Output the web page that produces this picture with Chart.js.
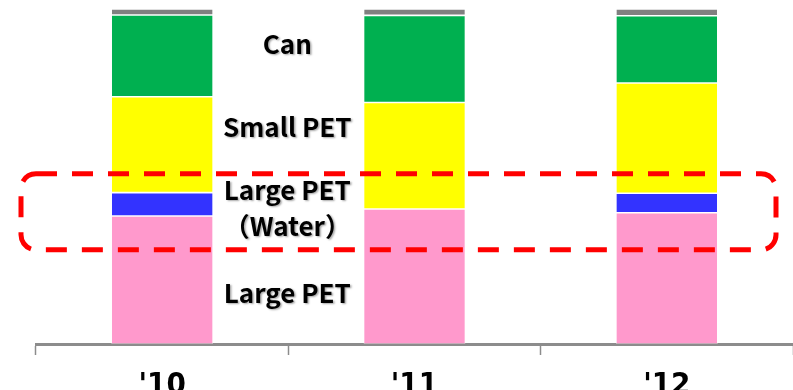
<!DOCTYPE html>
<html>
<head>
<meta charset="utf-8">
<script src="https://cdn.jsdelivr.net/npm/chart.js@4/dist/chart.umd.min.js"></script>
<style>
  html, body { margin: 0; padding: 0; background: #ffffff; }
  #wrap { width: 793px; height: 390px; overflow: hidden; }
</style>
</head>
<body>
<div id="wrap"><canvas id="c" width="793" height="390"></canvas></div>
<script>
// Container mix by year, share of total (%)
const years = ["'10", "'11", "'12"];
const largePet      = [38.2, 40.3, 39.2];
const largePetWater = [7.0, 0, 5.8];
const smallPet      = [28.6, 31.8, 32.9];
const can           = [24.4, 26.0, 20.1];
const other         = [1.8, 1.9, 2.0];

// Series labels written between the first two columns, bottom to top
const seriesNotes = [
  { text: 'Large PET', at: 15.2 },
  { text: '（Water）', at: 35.3 },
  { text: 'Large PET', at: 46.0 },
  { text: 'Small PET', at: 64.8 },
  { text: 'Can', at: 89.6 }
];

const LABEL_FONT = 'bold 26px "Noto Sans CJK JP", "Noto Sans", sans-serif';

const notesPlugin = {
  id: 'notes',
  afterDatasetsDraw(chart) {
    const { ctx, scales: { x, y } } = chart;
    ctx.save();
    // labels sit on the boundary between the '10 and '11 columns
    const cx = (x.getPixelForValue(0) + x.getPixelForValue(1)) / 2 - 1;
    ctx.font = LABEL_FONT;
    ctx.textAlign = 'center';
    ctx.textBaseline = 'middle';
    ctx.fillStyle = '#000000';
    ctx.shadowColor = 'rgba(0,0,0,0.35)';
    ctx.shadowOffsetX = 1.5;
    ctx.shadowOffsetY = 1.5;
    ctx.shadowBlur = 2;
    seriesNotes.forEach(n => ctx.fillText(n.text, cx, y.getPixelForValue(n.at)));
    ctx.restore();

    // dashed highlight round the water band
    const top = y.getPixelForValue(50.8);
    const bottom = y.getPixelForValue(28.1);
    const left = 21, right = 776, r = 15;
    ctx.save();
    ctx.strokeStyle = '#FF0000';
    ctx.lineWidth = 5;
    ctx.setLineDash([21, 15]);
    ctx.beginPath();
    ctx.moveTo(left + r, top);
    ctx.lineTo(right - r, top);
    ctx.arcTo(right, top, right, top + r, r);
    ctx.lineTo(right, bottom - r);
    ctx.arcTo(right, bottom, right - r, bottom, r);
    ctx.lineTo(left + r, bottom);
    ctx.arcTo(left, bottom, left, bottom - r, r);
    ctx.lineTo(left, top + r);
    ctx.arcTo(left, top, left + r, top, r);
    ctx.closePath();
    ctx.stroke();
    ctx.restore();
  }
};

const ds = (label, data, color) => ({
  label, data,
  backgroundColor: color,
  borderColor: 'rgba(255,255,255,0.45)',
  borderWidth: 0.8,
  borderSkipped: false,
  barPercentage: 0.404,
  categoryPercentage: 1.0
});

new Chart(document.getElementById('c'), {
  type: 'bar',
  data: {
    labels: years,
    datasets: [
      ds('Large PET', largePet, '#FF99CC'),
      ds('Large PET（Water）', largePetWater, '#3333FF'),
      ds('Small PET', smallPet, '#FFFF00'),
      ds('Can', can, '#00B050'),
      ds('Other', other, '#808080')
    ]
  },
  options: {
    responsive: false,
    animation: false,
    devicePixelRatio: 1,
    layout: { padding: { top: 9, left: 36, right: 0, bottom: 0 } },
    plugins: {
      legend: { display: false },
      tooltip: { enabled: false }
    },
    scales: {
      x: {
        stacked: true,
        afterFit(scale) { scale.height = 46; },
        grid: {
          offset: true,
          drawOnChartArea: false,
          drawTicks: true,
          tickLength: 11,
          tickColor: '#8C8C8C',
          tickWidth: 1.5
        },
        border: { display: true, color: '#8C8C8C', width: 3 },
        ticks: {
          color: '#000000',
          padding: 12,
          font: { family: '"Liberation Sans Narrow", "DejaVu Sans Condensed", "Liberation Sans", sans-serif', size: 31, weight: 'bold' }
        }
      },
      y: {
        stacked: true,
        display: false,
        min: 0,
        max: 100
      }
    }
  },
  plugins: [notesPlugin]
});
</script>
</body>
</html>
